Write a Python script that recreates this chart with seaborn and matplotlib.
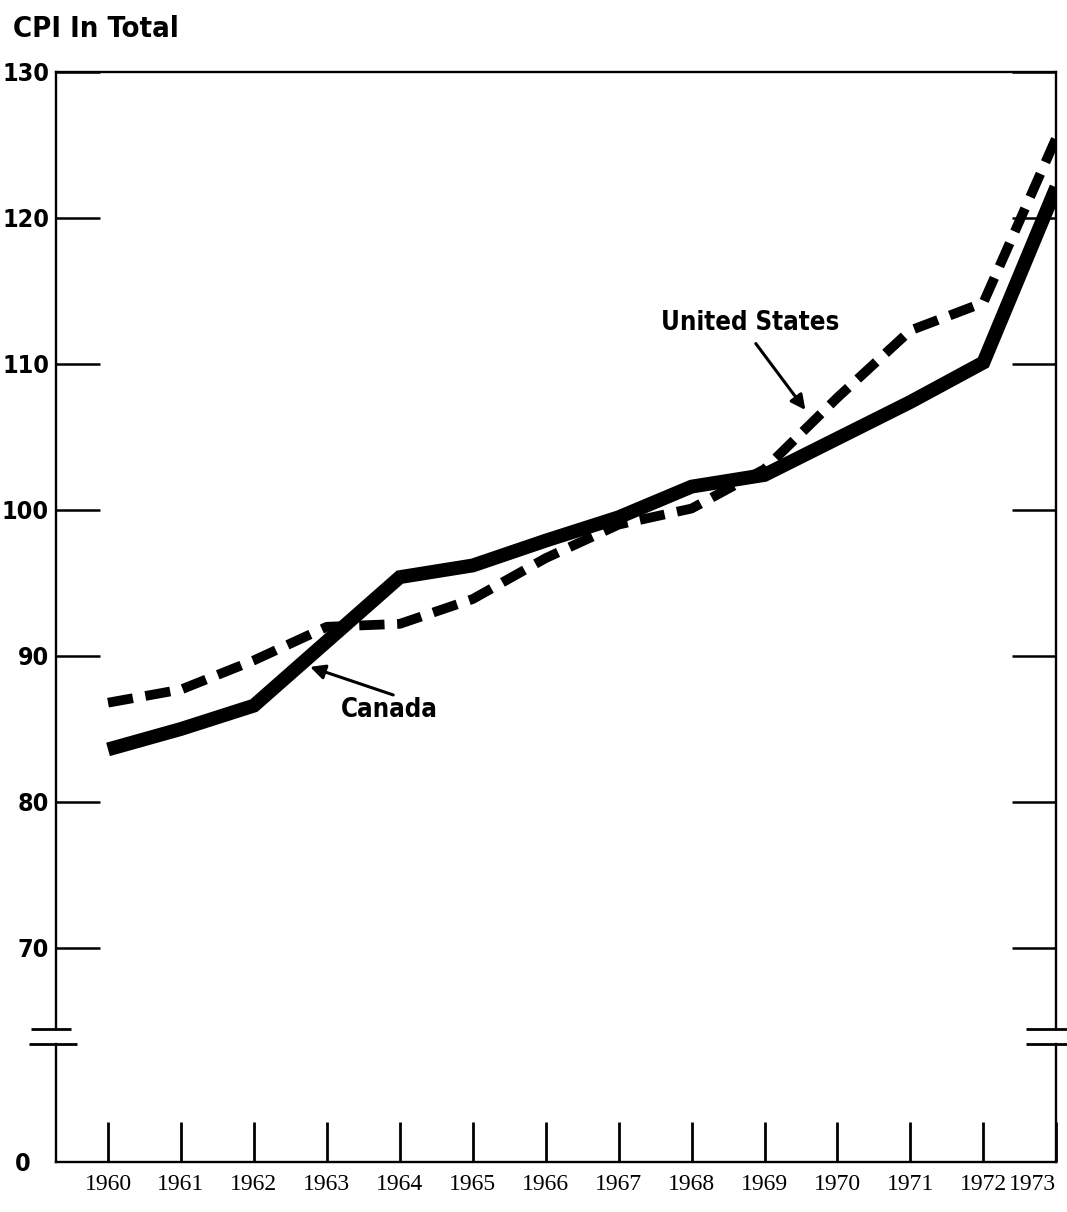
import numpy as np
import pandas as pd
import matplotlib.pyplot as plt
import seaborn as sns

# CPI in total, 1967 = 100
years = [1960, 1961, 1962, 1963, 1964, 1965, 1966, 1967, 1968, 1969, 1970, 1971, 1972, 1973]
canada = [83.6, 85.0, 86.6, 91.0, 95.4, 96.2, 97.9, 99.5, 101.6, 102.4, 104.9, 107.4, 110.1, 122.1]
united_states = [86.8, 87.7, 89.7, 92.0, 92.2, 93.9, 96.7, 99.0, 100.1, 102.8, 107.7, 112.3, 114.2, 125.5]

y_ticks = [70, 80, 90, 100, 110, 120, 130]
y_labels = ["70", "80", "90", "100", "110", "120", "130"]
year_labels = [str(y) for y in years]

sns.set_theme(style="white")
plt.rcParams["font.family"] = ["DejaVu Sans"]
plt.rcParams["font.stretch"] = "condensed"
for k in ["text.color", "xtick.color", "ytick.color", "axes.labelcolor"]:
    plt.rcParams[k] = "black"
sans = ["DejaVu Sans"]
serif = ["Liberation Serif", "DejaVu Serif"]

fig = plt.figure(figsize=(10.67, 12.12), dpi=100)
fig.patch.set_facecolor("white")

# broken y axis: main panel + a thin panel holding the zero line
ax = fig.add_axes([0.0525, 0.1510, 0.9375, 0.7896])
axb = fig.add_axes([0.0525, 0.0413, 0.9375, 0.0974], sharex=ax)

sns.lineplot(x=years, y=canada, ax=ax, color="black", linewidth=10,
             solid_capstyle="butt", solid_joinstyle="miter")
sns.lineplot(x=years, y=united_states, ax=ax, color="black", linewidth=7,
             linestyle=(0, (2.6, 1.3)), dash_capstyle="butt")

ax.set_xlim(1959.287, 1973.0)
ax.set_ylim(64.45, 130)
axb.set_ylim(0, 8)

# spines
for a in (ax, axb):
    for s in a.spines.values():
        s.set_color("black")
        s.set_linewidth(1.7)
ax.spines["bottom"].set_visible(False)
axb.spines["top"].set_visible(False)

ax.set_yticks(y_ticks)
ax.set_yticklabels(y_labels, fontsize=18, fontweight="bold", family=sans, stretch="condensed")
ax.tick_params(axis="y", direction="in", length=32, width=1.8, left=True, right=True, pad=5)
ax.tick_params(axis="x", bottom=False, labelbottom=False)

axb.set_yticks([0])
axb.set_yticklabels(["0"], fontsize=18, fontweight="bold", family=sans, stretch="condensed")
axb.tick_params(axis="y", length=0, pad=18)
axb.set_xticks(years)
axb.set_xticklabels(year_labels, fontsize=17, family=serif)
axb.tick_params(axis="x", direction="in", length=29, width=2.0, bottom=True, pad=9)
# last year sits on the right corner, keep its label inside the page
axb.get_xticklabels()[-1].set_horizontalalignment("right")
ax.set_xlabel("")
ax.set_ylabel("")
axb.set_xlabel("")

# break marks
kw = dict(color="black", lw=2, clip_on=False, solid_capstyle="butt")
ax.plot([-0.025, 0.015], [0, 0], transform=ax.transAxes, **kw)
ax.plot([0.97, 1.02], [0, 0], transform=ax.transAxes, **kw)
axb.plot([-0.027, 0.021], [1, 1], transform=axb.transAxes, **kw)
axb.plot([0.97, 1.02], [1, 1], transform=axb.transAxes, **kw)

# labels with arrows
arrow = dict(arrowstyle="-|>", color="black", lw=2.2, mutation_scale=22, shrinkA=0, shrinkB=0)
ax.annotate("", xy=(1969.56, 106.85), xytext=(1968.88, 111.4), arrowprops=arrow)
ax.text(1968.81, 112.8, "United States", ha="center", va="center",
        fontsize=18.5, fontweight="bold", family=sans, stretch="condensed")
ax.annotate("", xy=(1962.77, 89.25), xytext=(1963.91, 87.33), arrowprops=arrow)
ax.text(1963.855, 86.3, "Canada", ha="center", va="center",
        fontsize=18.5, fontweight="bold", family=sans, stretch="condensed")

fig.text(0.012, 1 - 37 / 1212, "CPI In Total", ha="left", va="baseline",
         fontsize=21, fontweight="bold", family=sans, stretch="condensed")

fig.savefig("out.png", dpi=100, facecolor="white")
plt.close()
